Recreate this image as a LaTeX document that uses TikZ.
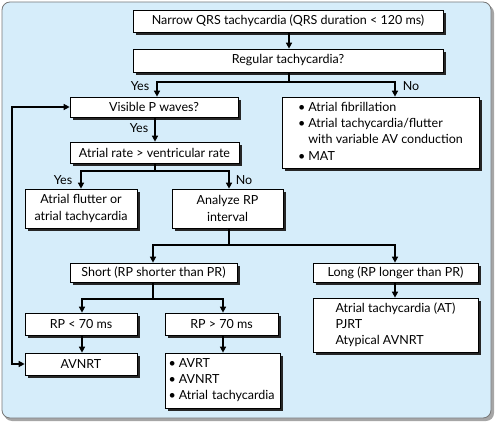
\documentclass[tikz,border=0pt]{standalone}
\usepackage{fontspec}
\setmainfont{Lato}
\usetikzlibrary{arrows.meta,shadows}
\definecolor{bgblue}{RGB}{214,237,250}
\definecolor{frame}{RGB}{120,120,120}
\tikzset{
  box/.style={draw=black, line width=0.7pt, fill=white, inner sep=0pt, align=center,
    font=\fontsize{12.5}{16.2}\selectfont,
    drop shadow={shadow xshift=2.6pt, shadow yshift=-2.6pt, fill=black!85, opacity=1}},
  conn/.style={line width=1.8pt, -{Triangle[width=6pt,length=6pt]}},
  plain/.style={line width=1.8pt},
  lbl/.style={font=\fontsize{12.5}{14}\selectfont, inner sep=0pt},
}
\begin{document}
\begin{tikzpicture}[x=1pt,y=-1pt]
\useasboundingbox (0,0) rectangle (500,427);
\fill[black!35, rounded corners=8pt] (4,5) rectangle (494,421);
\draw[frame, fill=bgblue, line width=0.8pt, rounded corners=8pt] (2,2) rectangle (491,418);

\node[box, minimum width=310pt, minimum height=22pt] (n1) at (288,21) {Narrow QRS tachycardia (QRS duration < 120 ms)};
\node[box, minimum width=310pt, minimum height=23pt] (n2) at (288,60.5) {Regular tachycardia?};
\node[box, minimum width=168pt, minimum height=20pt] (n3) at (154,107) {Visible P waves?};
\node[box, minimum width=197pt, minimum height=71pt] (n4) at (380.5,132.5) {\begin{tabular}{@{}l@{\hspace{3pt}}l@{}}\textbullet & Atrial fibrillation\\ \textbullet & Atrial tachycardia/flutter\\ & with variable AV conduction\\ \textbullet & MAT\end{tabular}};
\node[box, minimum width=169pt, minimum height=21pt] (n5) at (154.5,152.5) {Atrial rate > ventricular rate};
\node[box, minimum width=112pt, minimum height=39pt] (n6) at (81,208.5) {Atrial flutter or\\atrial tachycardia};
\node[box, minimum width=111pt, minimum height=39pt] (n7) at (227.5,208.5) {Analyze RP\\interval};
\node[box, minimum width=167pt, minimum height=19pt] (n8) at (153.5,272.5) {Short (RP shorter than PR)};
\node[box, minimum width=165pt, minimum height=19pt] (n9) at (395.5,272.5) {Long (RP longer than PR)};
\node[box, minimum width=112pt, minimum height=22pt] (n10) at (81,324) {RP < 70 ms};
\node[box, minimum width=113pt, minimum height=22pt] (n11) at (221.5,324) {RP > 70 ms};
\node[box, minimum width=112pt, minimum height=22pt] (n12) at (81,364) {AVNRT};
\node[box, minimum width=115pt, minimum height=55pt, text width=108pt, align=left] (n13) at (222.5,380.5) {\begin{tabular}{@{}l@{\hspace{3pt}}l@{}}\textbullet & AVRT\\ \textbullet & AVNRT\\ \textbullet & Atrial tachycardia\end{tabular}};
\node[box, minimum width=165pt, minimum height=54pt] (n14) at (395.5,325) {\begin{tabular}{@{}l@{}}Atrial tachycardia (AT)\\ PJRT\\ Atypical AVNRT\end{tabular}};

% connectors
\draw[conn] (n1.south -| 289,0) -- (n2.north -| 289,0);
\coordinate (s1) at (289,82);
\draw[plain] (n2.south -| s1) -- (s1);
\draw[conn] (s1) -| (n3.north -| 157,0);
\draw[conn] (s1) -| (n4.north -| 395,0);
\node[lbl] (y1) at (140,86) {Yes};
\node[lbl] (no1) at (411,86) {No};

\draw[conn] (n3.south -| 155,0) -- (n5.north -| 155,0);
\node[lbl] (y2) at (139,128) {Yes};

\coordinate (s2) at (155,171);
\draw[plain] (n5.south -| s2) -- (s2);
\draw[conn] (s2) -| (n6.north -| 81,0);
\draw[conn] (s2) -| (n7.north -| 229,0);
\node[lbl] (y3) at (63,180) {Yes};
\node[lbl] (no2) at (244,180) {No};

\coordinate (s3) at (229,245);
\draw[plain] (n7.south -| s3) -- (s3);
\draw[conn] (s3) -| (n8.north -| 153,0);
\draw[conn] (s3) -| (n9.north -| 395,0);

\coordinate (s4) at (153,299);
\draw[plain] (n8.south -| s4) -- (s4);
\draw[conn] (s4) -| (n10.north -| 82,0);
\draw[conn] (s4) -| (n11.north -| 223,0);

\draw[conn] (n10.south -| 82,0) -- (n12.north -| 82,0);
\draw[conn] (n11.south -| 223,0) -- (n13.north -| 223,0);
\draw[conn] (n9.south -| 395,0) -- (n14.north -| 395,0);

% feedback loop
\coordinate (l1) at (12,107);
\coordinate (l2) at (12,364);
\draw[line width=1.8pt, {Triangle[width=6pt,length=6pt]}-{Triangle[width=6pt,length=6pt]}] (n3.west) -- (l1) -- (l2) -- (n12.west);
\end{tikzpicture}
\end{document}
